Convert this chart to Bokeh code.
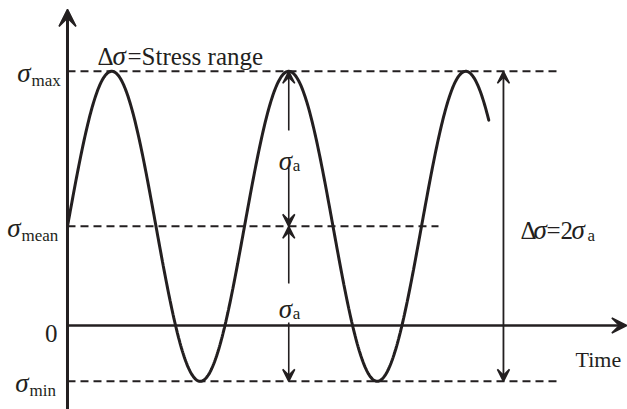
import numpy as np
from bokeh.plotting import figure
from bokeh.models import Range1d, Arrow, VeeHead
from bokeh.core.properties import value
from bokeh.embed import file_html
from bokeh.resources import INLINE

# Stress cycle parameters (arbitrary stress units, time in cycles)
sigma_mean = 0.64
sigma_amp = 1.0
sigma_max = sigma_mean + sigma_amp
sigma_min = sigma_mean - sigma_amp
period = 1.0
t_end = 2.38

level_names = ["max", "mean", "min"]
level_values = [sigma_max, sigma_mean, sigma_min]
level_line_end = [2.774, 2.096, 2.774]

INK = "#231f20"
SERIF = "Liberation Serif"

t = np.linspace(0.0, t_end, 600)
sigma = sigma_mean + sigma_amp * np.sin(2 * np.pi * t / period)

p = figure(width=627, height=409, output_backend="svg", toolbar_location=None,
           x_range=Range1d(-0.3785, 3.1638), y_range=Range1d(-0.5419, 2.0968),
           x_axis_location=None, y_axis_location=None, min_border=0)
p.outline_line_color = None
p.grid.visible = False
p.background_fill_color = "white"
p.border_fill_color = "white"

# dashed reference levels
p.segment(x0=[0.0] * 3, y0=level_values, x1=level_line_end, y1=level_values,
          line_color=INK, line_width=2, line_dash="8 5")

# the stress signal
p.line(t, sigma, line_color=INK, line_width=3, line_cap="round")


def head(size):
    return VeeHead(size=size, fill_color=INK, fill_alpha=1.0,
                   line_color=INK, line_width=1.5)


# axes drawn as arrows
p.add_layout(Arrow(x_start=0, y_start=-0.5419, x_end=0, y_end=2.039,
                   line_color=INK, line_width=3, end=head(17)))
p.add_layout(Arrow(x_start=0, y_start=0, x_end=3.16, y_end=0,
                   line_color=INK, line_width=2.5, end=head(15)))

# amplitude arrows at the second peak
t_peak = 1.25
amp_segments = [
    (sigma_mean + 0.618, sigma_max),
    (sigma_mean + 0.379, sigma_mean),
    (sigma_mean - 0.369, sigma_mean),
    (sigma_mean - 0.621, sigma_min),
]
for y0, y1 in amp_segments:
    p.add_layout(Arrow(x_start=t_peak, y_start=y0, x_end=t_peak, y_end=y1,
                       line_color=INK, line_width=1.6, end=head(12)))

# full stress range arrow
t_range = 2.463
p.add_layout(Arrow(x_start=t_range, y_start=sigma_min, x_end=t_range, y_end=sigma_max,
                   line_color=INK, line_width=1.8, start=head(12), end=head(12)))


def label(x, y, s, dx, dy, size=25, italic=False, align="left", baseline="alphabetic"):
    p.text(x=[x], y=[y], text=[s], x_offset=dx, y_offset=dy,
           text_font=value(SERIF), text_font_size=f"{size}px",
           text_font_style="italic" if italic else "normal",
           text_color=INK, text_align=align, text_baseline=baseline)


# level labels on the stress axis
sub_left = {"max": -36, "mean": -46, "min": -38}
for name, lv in zip(level_names, level_values):
    label(0, lv, "σ", sub_left[name] - 1, 2, size=27, italic=True, align="right")
    label(0, lv, name, sub_left[name], 9, size=17)
label(0, 0, "0", -10, 8, align="right")

# stress range caption
label(0, sigma_max, "Δ", 30, -15)
label(0, sigma_max, "σ", 45, -15, size=27, italic=True)
label(0, sigma_max, "=Stress range", 60, -15)

# amplitude labels
for anchor, dy in [(sigma_mean + 0.5 * sigma_amp, 12), (sigma_mean - 0.5 * sigma_amp, 5)]:
    label(t_peak, anchor, "σ", -10, dy, size=27, italic=True)
    label(t_peak, anchor, "a", 4, dy + 5, size=17)

# range = 2 x amplitude
label(t_range, sigma_mean, "Δ", 17, 4)
label(t_range, sigma_mean, "σ", 30, 4, size=27, italic=True)
label(t_range, sigma_mean, "=2", 43, 4)
label(t_range, sigma_mean, "σ", 68, 4, size=27, italic=True)
label(t_range, sigma_mean, "a", 84, 9, size=17)

# time axis title
label(2.921, 0, "Time", -9, 34, size=22)

open("out.html", "w").write(file_html(p, INLINE))
